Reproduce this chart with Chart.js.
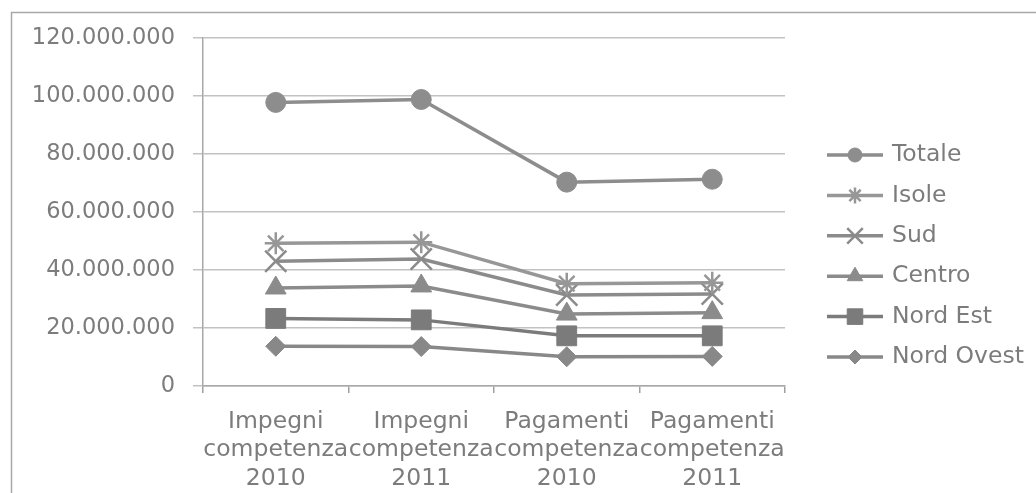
<!DOCTYPE html>
<html>
<head>
<meta charset="utf-8">
<script src="https://cdn.jsdelivr.net/npm/chart.js@4/dist/chart.umd.min.js"></script>
<style>
  body { margin: 0; background: #fff; }
  #wrap { width: 1036px; height: 493px; position: relative; }
</style>
</head>
<body>
<div id="wrap"><canvas id="chart"></canvas></div>
<script>
// categorie e serie
const categories = [
  ['Impegni', 'competenza', '2010'],
  ['Impegni', 'competenza', '2011'],
  ['Pagamenti', 'competenza', '2010'],
  ['Pagamenti', 'competenza', '2011']
];
const seriesNames = ['Totale', 'Isole', 'Sud', 'Centro', 'Nord Est', 'Nord Ovest'];
const totale = [97800000, 98800000, 70300000, 71300000];
const isole = [49200000, 49600000, 35300000, 35600000];
const sud = [43000000, 43800000, 31400000, 31700000];
const centro = [33800000, 34500000, 24800000, 25300000];
const nordEst = [23300000, 22800000, 17300000, 17300000];
const nordOvest = [13700000, 13600000, 10100000, 10200000];
const yTicks = [0, 20000000, 40000000, 60000000, 80000000, 100000000, 120000000];

const FONT = 'DejaVu Sans';
const TEXT = '#7c7c7c';

function fmt(v) {
  return String(Math.round(v)).replace(/\B(?=(\d{3})+(?!\d))/g, '.');
}

function ds(label, data, color, style, radius, legendRadius) {
  return {
    label: label,
    data: data,
    borderColor: color,
    backgroundColor: color,
    borderWidth: 3.5,
    pointStyle: style,
    pointRadius: radius,
    pointHoverRadius: radius,
    pointBorderWidth: (style === 'star' || style === 'crossRot') ? 2.5 : 1,
    pointBackgroundColor: color,
    pointBorderColor: color,
    legendRadius: legendRadius,
    tension: 0
  };
}

const framePlugin = {
  id: 'frame',
  beforeDraw: chart => {
    const ctx = chart.ctx;
    ctx.save();
    ctx.strokeStyle = '#a8a8a8';
    ctx.lineWidth = 1.5;
    ctx.strokeRect(11.5, 12.5, 1300, 800);
    ctx.restore();
  }
};

// legenda disegnata a mano: linea con il marcatore al centro
const legendPlugin = {
  id: 'lineLegend',
  afterDraw: chart => {
    const ctx = chart.ctx;
    const x0 = 827, x1 = 883, step = 40.4;
    let y = 155;
    ctx.save();
    chart.data.datasets.forEach(d => {
      ctx.strokeStyle = d.borderColor;
      ctx.lineWidth = 3.5;
      ctx.beginPath();
      ctx.moveTo(x0, y);
      ctx.lineTo(x1, y);
      ctx.stroke();
      ctx.fillStyle = d.pointBackgroundColor;
      ctx.strokeStyle = d.pointBorderColor;
      ctx.lineWidth = d.pointBorderWidth;
      Chart.helpers.drawPoint(ctx, {
        pointStyle: d.pointStyle,
        radius: d.legendRadius,
        rotation: 0,
        borderWidth: d.pointBorderWidth
      }, (x0 + x1) / 2, y);
      ctx.fillStyle = TEXT;
      ctx.font = '23.5px "' + FONT + '"';
      ctx.textAlign = 'left';
      ctx.textBaseline = 'middle';
      ctx.fillText(d.label, 892, y);
      y += step;
    });
    ctx.restore();
  }
};

new Chart(document.getElementById('chart'), {
  type: 'line',
  plugins: [framePlugin, legendPlugin],
  data: {
    labels: categories,
    datasets: [
      ds(seriesNames[0], totale, '#8d8d8d', 'circle', 10, 7),
      ds(seriesNames[1], isole, '#979797', 'star', 11, 8),
      ds(seriesNames[2], sud, '#8b8b8b', 'crossRot', 15, 11),
      ds(seriesNames[3], centro, '#8b8b8b', 'triangle', 12, 9),
      ds(seriesNames[4], nordEst, '#7b7b7b', 'rect', 14, 11),
      ds(seriesNames[5], nordOvest, '#888888', 'rectRot', 10, 7)
    ]
  },
  options: {
    responsive: true,
    maintainAspectRatio: false,
    animation: false,
    layout: {
      padding: { left: 0, right: 251, top: 38, bottom: 0 }
    },
    plugins: {
      legend: { display: false },
      tooltip: { enabled: false }
    },
    scales: {
      x: {
        type: 'category',
        offset: true,
        afterFit: scale => {
          scale.height = 107;
          scale.paddingLeft = 0;
          scale.paddingRight = 0;
        },
        grid: {
          offset: true,
          drawOnChartArea: false,
          drawTicks: true,
          tickLength: 7,
          color: '#a0a0a0',
          lineWidth: 1.5
        },
        border: { display: true, color: '#a8a8a8', width: 1.5 },
        ticks: {
          color: TEXT,
          font: { family: FONT, size: 23.5, lineHeight: 1.23 },
          padding: 14,
          maxRotation: 0,
          autoSkip: false
        }
      },
      y: {
        min: 0,
        max: 120000000,
        afterFit: scale => {
          scale.width = 203;
          scale.paddingTop = 0;
          scale.paddingBottom = 0;
        },
        afterBuildTicks: scale => { scale.ticks = yTicks.map(v => ({ value: v })); },
        grid: {
          color: '#c2c2c2',
          lineWidth: 1.5,
          tickLength: 10
        },
        border: { display: true, color: '#a8a8a8', width: 1.5 },
        ticks: {
          color: TEXT,
          font: { family: FONT, size: 22.5 },
          padding: 18,
          callback: v => fmt(v)
        }
      }
    }
  }
});
</script>
</body>
</html>
